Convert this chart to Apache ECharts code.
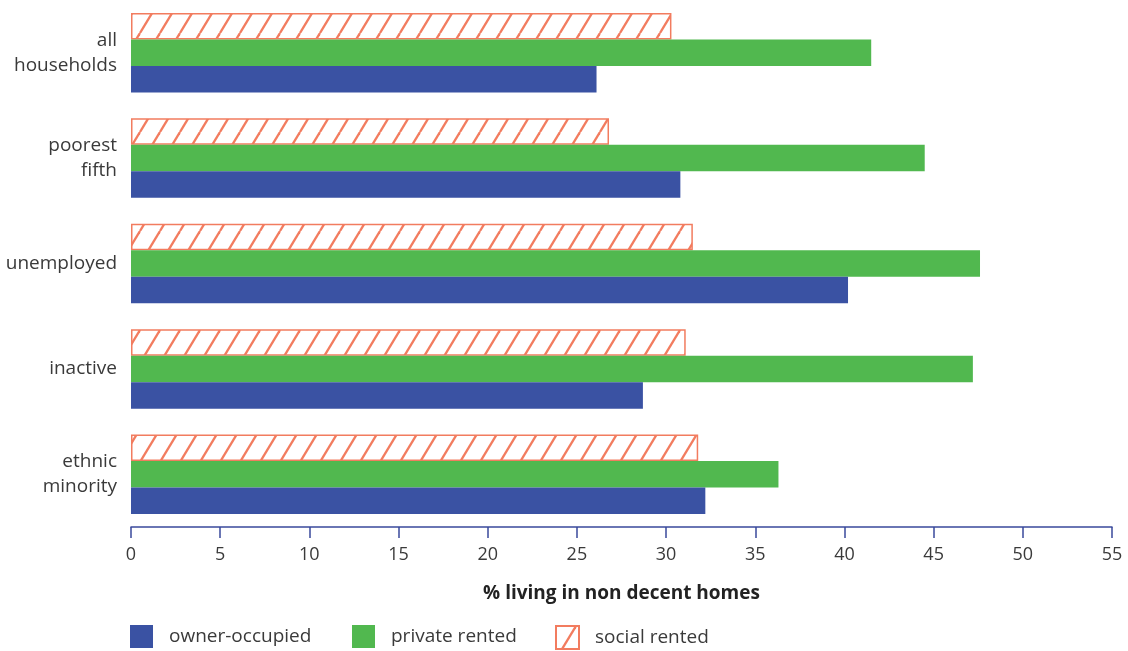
<!DOCTYPE html>
<html>
<head>
<meta charset="utf-8">
<script src="https://cdn.jsdelivr.net/npm/echarts@6/dist/echarts.min.js"></script>
<style>
html,body{margin:0;padding:0;background:#fff;}
#chart{width:1128px;height:651px;}
</style>
</head>
<body>
<div id="chart"></div>
<script>
const categories = ['all\nhouseholds', 'poorest\nfifth', 'unemployed', 'inactive', 'ethnic\nminority'];
const ownerOccupied = [26.1, 30.8, 40.2, 28.7, 32.2];
const privateRented = [41.5, 44.5, 47.6, 47.2, 36.3];
const socialRented = [30.3, 26.8, 31.5, 31.1, 31.8];
const xTicks = [0, 5, 10, 15, 20, 25, 30, 35, 40, 45, 50, 55];

const BLUE = '#3A52A3';
const GREEN = '#51B84F';
const ORANGE = '#F27C5F';
const TEXT = '#3a3a3a';
const FONT = 'Open Sans';

function makeHatch() {
  const w = 20, h = 33;
  const c = document.createElement('canvas');
  c.width = w; c.height = h;
  const ctx = c.getContext('2d');
  ctx.fillStyle = '#ffffff';
  ctx.fillRect(0, 0, w, h);
  ctx.strokeStyle = ORANGE;
  ctx.lineWidth = 2.3;
  const segs = [[0, h, w, 0], [-w, h, 0, 0], [w, h, 2 * w, 0]];
  segs.forEach(s => {
    ctx.beginPath();
    ctx.moveTo(s[0], s[1]);
    ctx.lineTo(s[2], s[3]);
    ctx.stroke();
  });
  return c;
}
const hatch = makeHatch();

const chart = echarts.init(document.getElementById('chart'), null, {renderer: 'canvas'});
const legendBase = {
  top: 625, itemWidth: 23, itemHeight: 23, padding: 0, icon: 'rect',
  textStyle: {fontFamily: FONT, fontSize: 19, color: TEXT, padding: [0, 0, 0, 11]},
  selectedMode: false
};
chart.setOption({
  animation: false,
  textStyle: {fontFamily: FONT},
  grid: {left: 131, right: 16, top: 0, bottom: 124, containLabel: false},
  xAxis: {
    type: 'value', min: 0, max: 55, interval: 5,
    axisLine: {show: true, lineStyle: {color: '#3A4A9C', width: 1.5}},
    axisTick: {show: true, length: 11, lineStyle: {color: '#3A4A9C', width: 1.5}},
    splitLine: {show: false},
    axisLabel: {
      fontFamily: FONT, fontSize: 18, color: TEXT, margin: 19,
      formatter: v => xTicks.indexOf(v) >= 0 ? String(v) : ''
    },
    name: '% living in non decent homes',
    nameLocation: 'middle', nameGap: 57,
    nameTextStyle: {fontFamily: FONT, fontSize: 19, fontWeight: 'bold', color: '#222'}
  },
  yAxis: {
    type: 'category', data: categories, inverse: true,
    axisLine: {show: false}, axisTick: {show: false}, splitLine: {show: false},
    axisLabel: {fontFamily: FONT, fontSize: 19, color: TEXT, margin: 14, lineHeight: 25, align: 'right'}
  },
  legend: [
    Object.assign({}, legendBase, {left: 130, data: ['owner-occupied']}),
    Object.assign({}, legendBase, {left: 352, data: ['private rented']}),
    Object.assign({}, legendBase, {left: 555, data: ['social rented']})
  ],
  series: [
    {name: 'social rented', type: 'bar', data: socialRented, barWidth: 26.5, barGap: '0%',
      itemStyle: {color: {image: hatch, repeat: 'repeat'}, borderColor: ORANGE, borderWidth: 1.5}},
    {name: 'private rented', type: 'bar', data: privateRented, barWidth: 26.5, barGap: '0%',
      itemStyle: {color: GREEN}},
    {name: 'owner-occupied', type: 'bar', data: ownerOccupied, barWidth: 26.5, barGap: '0%',
      itemStyle: {color: BLUE}}
  ]
});
</script>
</body>
</html>
